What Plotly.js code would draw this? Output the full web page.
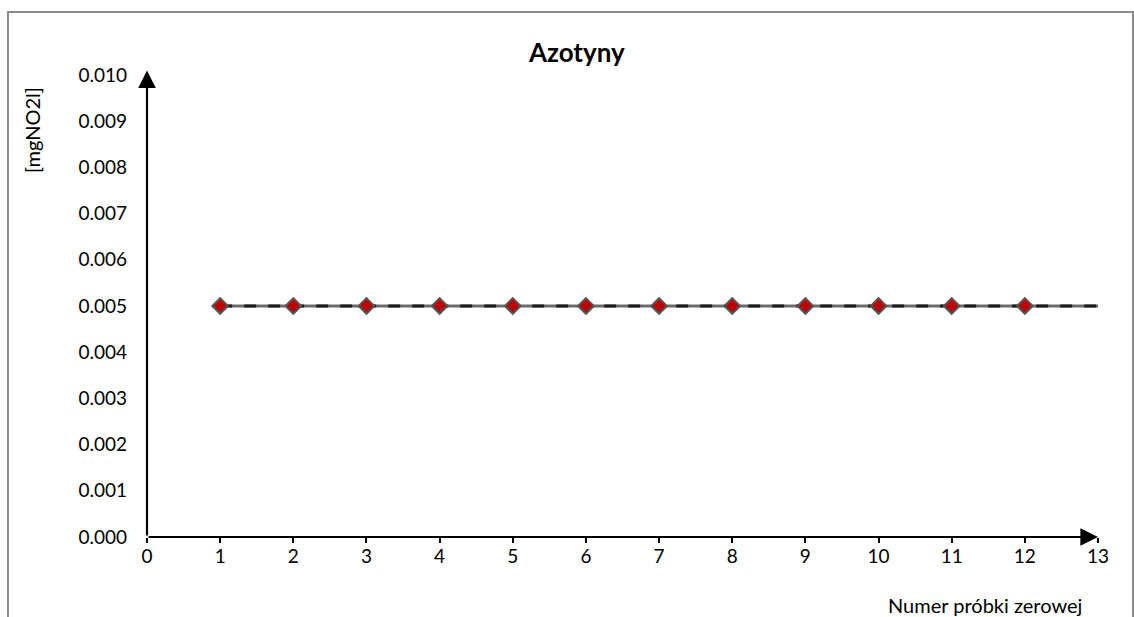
<!DOCTYPE html>
<html>
<head>
<meta charset="utf-8">
<script src="https://cdn.plot.ly/plotly-3.0.1.min.js"></script>
<style>html,body{margin:0;padding:0;background:#fff;}#chart{width:1134px;height:617px;}</style>
</head>
<body>
<div id="chart"></div>
<script>
const sampleNumbers = [1, 2, 3, 4, 5, 6, 7, 8, 9, 10, 11, 12];
const nitriteValues = [0.005, 0.005, 0.005, 0.005, 0.005, 0.005, 0.005, 0.005, 0.005, 0.005, 0.005, 0.005];
const limitX = [1, 13];
const limitY = [0.005, 0.005];
const xTicks = [0, 1, 2, 3, 4, 5, 6, 7, 8, 9, 10, 11, 12, 13];
const yTicks = [0, 0.001, 0.002, 0.003, 0.004, 0.005, 0.006, 0.007, 0.008, 0.009, 0.010];

const FONT = 'Lato, "Open Sans", "DejaVu Sans", sans-serif';

const traces = [
  {x: limitX, y: limitY, mode: 'lines', line: {color: '#6b6b6b', width: 3}, hoverinfo: 'skip', showlegend: false},
  {x: limitX, y: limitY, mode: 'lines', line: {color: '#1a1a1a', width: 3, dash: '12px,12px'}, hoverinfo: 'skip', showlegend: false},
  {x: sampleNumbers, y: nitriteValues, mode: 'markers', marker: {symbol: 'diamond', size: 12, color: '#c00000', line: {color: '#555555', width: 2}}, showlegend: false}
];

const layout = {
  width: 1134, height: 617,
  margin: {l: 147, r: 36, t: 75, b: 80},
  paper_bgcolor: '#ffffff', plot_bgcolor: '#ffffff',
  font: {family: FONT, size: 19, color: '#000'},
  title: {text: '<b>Azotyny</b>', font: {family: FONT, size: 26, color: '#000'}, x: 0.5087, xanchor: 'center', y: 0.914, yanchor: 'middle'},
  xaxis: {range: [0, 13], tickvals: xTicks, ticktext: xTicks.map(String), showgrid: false, zeroline: false,
          showline: false, ticks: 'outside', ticklen: 5, tickwidth: 2, tickcolor: '#000', ticklabelstandoff: -3,
          tickfont: {family: FONT, size: 19, color: '#000'}},
  yaxis: {range: [0, 0.010], tickvals: yTicks, ticktext: yTicks.map(v => v.toFixed(3)), showgrid: false, zeroline: false,
          showline: false, ticks: '', ticklabelstandoff: 19,
          tickfont: {family: FONT, size: 19, color: '#000'}},
  shapes: [
    {type: 'rect', xref: 'paper', yref: 'paper', x0: -0.1462, x1: 1.0368, y0: -0.2, y1: 1.1364,
     line: {color: '#8c8c8c', width: 2}, fillcolor: 'rgba(0,0,0,0)', layer: 'below'}
  ],
  annotations: [
    {x: 0, y: 0.0101, ax: 0, ay: 0, xref: 'x', yref: 'y', axref: 'x', ayref: 'y', showarrow: true,
     arrowhead: 2, arrowsize: 1.6, arrowwidth: 2.2, arrowcolor: '#000', text: ''},
    {x: 13, y: 0, ax: 0, ay: 0, xref: 'x', yref: 'y', axref: 'x', ayref: 'y', showarrow: true,
     arrowhead: 2, arrowsize: 1.6, arrowwidth: 2.2, arrowcolor: '#000', text: ''},
    {text: '[mgNO2l]', xref: 'paper', yref: 'paper', x: -0.1203, y: 0.88, textangle: -90,
     showarrow: false, xanchor: 'center', yanchor: 'middle', font: {family: FONT, size: 20, color: '#000'}},
    {text: 'Numer próbki zerowej', xref: 'paper', yref: 'paper', x: 0.9853, y: -0.147,
     showarrow: false, xanchor: 'right', yanchor: 'middle', font: {family: FONT, size: 20, color: '#000'}}
  ]
};

Plotly.newPlot('chart', traces, layout, {staticPlot: true, displayModeBar: false});
</script>
</body>
</html>
